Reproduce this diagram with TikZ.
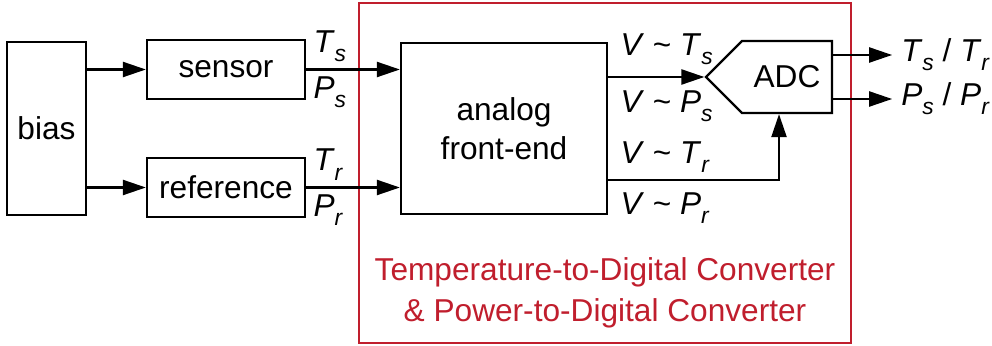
\documentclass[tikz,border=0pt]{standalone}
\usepackage{fontspec}
\setmainfont{Liberation Sans}
\usepackage{xcolor}
\usepackage{tikz}
\usetikzlibrary{arrows.meta,positioning,shapes.symbols,calc}
\definecolor{convred}{RGB}{192,30,45}
\newcommand{\vsig}[2]{\textit{#1}\raisebox{-0.55ex}{\fontsize{13}{13}\selectfont\textit{#2}}}
\newcommand{\vprop}[2]{\textit{V} \textasciitilde{} \vsig{#1}{#2}}

\begin{document}
\begin{tikzpicture}[every node/.style={align=center, font=\fontsize{18}{22}\selectfont}]
\tikzset{
  blk/.style={draw=black, line width=1.3pt, inner sep=0pt},
  adcshape/.style={draw=black, line width=1.3pt, shape=signal, signal to=west, signal pointer angle=90, minimum width=2.52cm, minimum height=1.44cm, inner sep=0pt},
  convbox/.style={draw=convred, line width=0.9pt, minimum width=9.84cm, minimum height=6.8cm},
  convtext/.style={text=convred, font=\fontsize{18}{23}\selectfont},
  flow/.style={-{Triangle[length=0.46cm, width=0.3cm]}, line width=1.3pt},
  siglabel/.style={inner sep=4pt}
}
\useasboundingbox (0,0) rectangle (19.84,6.9);
\node[convbox] (tdc) at (12.10,3.44) {};
\node[convtext, above=0.2cm of tdc.south] (tdclabel) {Temperature-to-Digital Converter\\\& Power-to-Digital Converter};
\node[blk, minimum width=1.58cm, minimum height=3.46cm] (bias) at (0.93,4.33) {bias};
\node[blk, minimum width=3.16cm, minimum height=1.18cm] (sensor) at (4.52,5.51) {sensor};
\node[blk, minimum width=3.16cm, minimum height=1.18cm] (ref) at (4.52,3.15) {reference};
\node[blk, minimum width=4.12cm, minimum height=3.42cm] (afe) at (10.08,4.33) {analog\\front-end};
\node[adcshape] (adc) at (15.74,5.36) {ADC};
\draw[flow] (bias.east |- sensor.west) -- (sensor.west);
\draw[flow] (bias.east |- ref.west) -- (ref.west);
\draw[flow] (sensor.east) -- (sensor.east -| afe.west);
\draw[flow] (ref.east) -- (ref.east -| afe.west);
\node[siglabel, above right] (lts) at (sensor.east) {\vsig{T}{s}};
\node[siglabel, below right] (lps) at (sensor.east) {\vsig{P}{s}};
\node[siglabel, above right] (ltr) at (ref.east) {\vsig{T}{r}};
\node[siglabel, below right] (lpr) at (ref.east) {\vsig{P}{r}};
\coordinate (afeo1) at ([yshift=1.03cm]afe.east);
\coordinate (afeo2) at ([yshift=-1.03cm]afe.east);
\draw[flow] (afeo1) -- (afeo1 -| adc.west);
\draw[flow] (afeo2) -| ([xshift=-0.16cm]adc.south);
\node[siglabel, above right, xshift=0.1cm, yshift=0.1cm] (lvts) at (afeo1) {\vprop{T}{s}};
\node[siglabel, below right, xshift=0.1cm, yshift=-0.12cm] (lvps) at (afeo1) {\vprop{P}{s}};
\node[siglabel, above right, xshift=0.1cm] (lvtr) at (afeo2) {\vprop{T}{r}};
\node[siglabel, below right, xshift=0.1cm, yshift=-0.1cm] (lvpr) at (afeo2) {\vprop{P}{r}};
\coordinate (adco1) at ([yshift=0.44cm]adc.east);
\coordinate (adco2) at ([yshift=-0.44cm]adc.east);
\node[siglabel, anchor=west, inner sep=5pt] (outt) at ([xshift=1.18cm]adco1) {\vsig{T}{s} / \vsig{T}{r}};
\node[siglabel, anchor=west, inner sep=5pt] (outp) at ([xshift=1.18cm]adco2) {\vsig{P}{s} / \vsig{P}{r}};
\draw[flow] (adco1) -- (outt.west);
\draw[flow] (adco2) -- (outp.west);
\end{tikzpicture}
\end{document}
